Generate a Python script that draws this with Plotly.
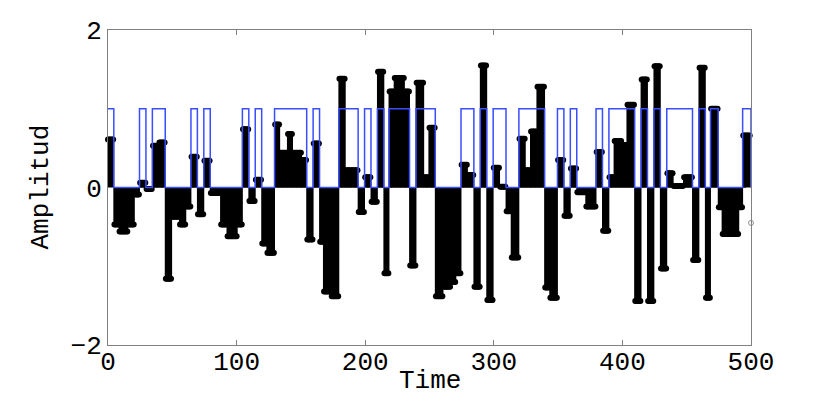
import numpy as np
import plotly.graph_objects as go

# held amplitude segments: first sample of each segment and its value
seg_start = [0, 5, 9, 16, 21, 25, 30, 35, 40, 45,
             50, 56, 61, 65, 70, 75, 80, 88, 93, 101,
             105, 110, 115, 120, 124, 130, 134, 140, 144, 151,
             155, 160, 165, 168, 174, 180, 185, 195, 200, 205,
             210, 215, 219, 223, 231, 235, 240, 246, 250, 255,
             261, 267, 271, 275, 280, 285, 290, 295, 300, 305,
             310, 314, 320, 325, 329, 334, 340, 344, 350, 355,
             360, 365, 372, 380, 385, 390, 394, 400, 404, 410,
             415, 420, 425, 430, 435, 440, 448, 455, 460, 465,
             469, 475, 478, 491, 494]
seg_amp = [0.61, -0.47, -0.56, -0.47, -0.09, 0.06, -0.02, 0.53, 0.57, -1.16,
           -0.37, -0.47, -0.24, 0.39, -0.34, 0.34, -0.07, -0.47, -0.62, -0.47,
           0.74, -0.17, 0.10, -0.71, -0.83, 0.80, 0.44, 0.68, 0.44, 0.35,
           -0.66, 0.56, -0.69, -1.32, -1.38, 1.38, 0.22, -0.31, 0.13, -0.18,
           1.47, -1.09, 1.22, 1.39, 1.22, -0.99, 1.33, 0.13, 0.76, -1.38,
           -1.26, -1.20, -1.09, 0.29, 0.16, -1.26, 1.55, -1.43, 0.25, 0.01,
           -0.30, -0.89, 0.62, 0.22, 0.71, 1.28, -1.27, -1.40, 0.35, -0.36,
           0.24, -0.06, -0.24, 0.45, -0.55, 0.13, 0.59, 0.54, 1.05, -1.44,
           1.37, -1.44, 1.54, -1.03, 0.18, 0.02, 0.13, -0.92, 1.52, -1.40,
           1.00, -0.25, -0.59, -0.25, 0.66]
n_samples = 500
end_x = [500]
end_y = [-0.45]

starts = np.array(seg_start)
ends = np.append(starts[1:], n_samples)
k = np.arange(n_samples)
amp = np.repeat(seg_amp, ends - starts)

# stems as one trace with gaps
stem_x, stem_y = [], []
for xi, yi in zip(k, amp):
    stem_x += [int(xi), int(xi), None]
    stem_y += [0, float(yi), None]

# binary signal: 1 while the held amplitude is positive
bits = [1 if a > 0 else 0 for a in seg_amp]
bit_x = [max(s - 0.5, 0) for s in seg_start] + [n_samples]
bit_y = bits + [0]

font = "Liberation Mono, Courier New, monospace"
axcol = "#808080"

fig = go.Figure()
fig.add_trace(go.Scatter(x=stem_x, y=stem_y, mode="lines",
                         line=dict(color="black", width=2.2),
                         hoverinfo="skip", showlegend=False))
fig.add_trace(go.Scatter(x=k, y=amp, mode="markers",
                         marker=dict(color="black", size=6),
                         cliponaxis=False, showlegend=False))
fig.add_trace(go.Scatter(x=end_x, y=end_y, mode="markers",
                         marker=dict(symbol="circle-open", color="#909090", size=5),
                         cliponaxis=False, showlegend=False))
fig.add_trace(go.Scatter(x=bit_x, y=bit_y, mode="lines", line_shape="hv",
                         line=dict(color="#3a4dff", width=1.5),
                         showlegend=False))

# page body adds 8px, margins compensate
fig.update_layout(
    width=830, height=407,
    margin=dict(l=100, r=87, t=22, b=70),
    paper_bgcolor="white", plot_bgcolor="white",
    font=dict(family=font, size=26, color="black"),
    annotations=[
        dict(text="Time", x=0.5, y=0, xref="paper", yref="paper",
             xanchor="center", yanchor="middle", yshift=-36,
             showarrow=False, font=dict(size=26)),
        dict(text="Amplitud", x=0, y=0.5, xref="paper", yref="paper",
             xanchor="center", yanchor="middle", xshift=-68, textangle=-90,
             showarrow=False, font=dict(size=26)),
    ],
)
fig.update_xaxes(range=[0, 500], tickvals=[0, 100, 200, 300, 400, 500],
                 showline=True, mirror="ticks", linecolor=axcol, linewidth=1,
                 ticks="inside", ticklen=5, tickcolor=axcol,
                 ticklabelstandoff=-7,
                 showgrid=False, zeroline=False, automargin=False)
fig.update_yaxes(range=[-2, 2], tickvals=[-2, 0, 2],
                 showline=True, mirror="ticks", linecolor=axcol, linewidth=1,
                 ticks="inside", ticklen=5, tickcolor=axcol,
                 showgrid=False, zeroline=True, zerolinecolor="#a0a0a0",
                 zerolinewidth=1, automargin=False)

fig.write_html("out.html")
